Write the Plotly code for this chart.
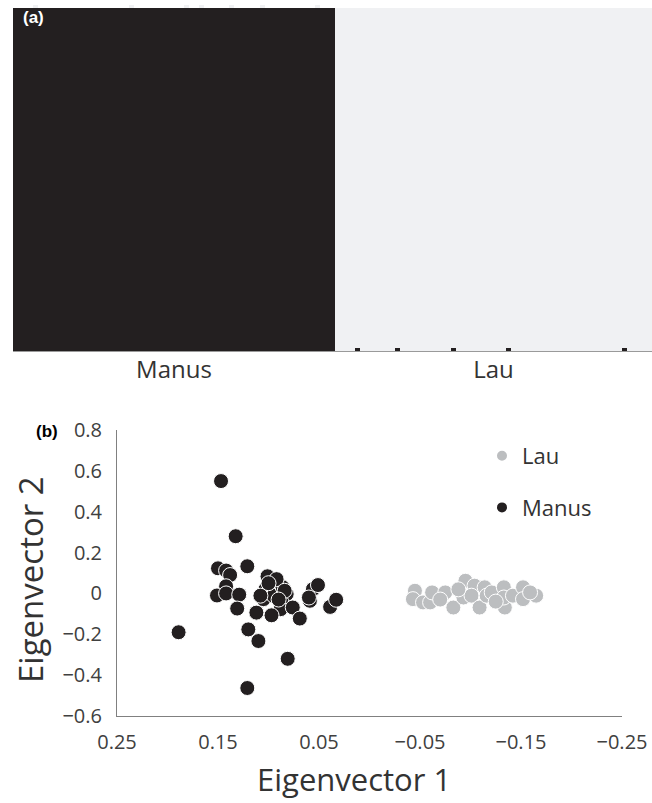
import plotly.graph_objects as go

# ---------------- Panel (a): ancestry proportions ----------------
n_manus = 64
n_lau = 63
pop_labels = ["Manus", "Lau"]
# individuals with small admixture signals (index: proportion of other cluster)
manus_minor = {4: 0.012, 23: 0.012, 34: 0.012, 37: 0.012, 43: 0.012, 49: 0.012, 60: 0.015}
lau_minor = {68: 0.008, 76: 0.008, 87: 0.008, 98: 0.008, 121: 0.01}

ind = list(range(n_manus + n_lau))
q_manus = []
q_lau = []
for i in ind:
    if i < n_manus:
        q_manus.append(1.0)
        q_lau.append(manus_minor.get(i, 0.0))
    else:
        m = lau_minor.get(i, 0.0)
        q_manus.append(m)
        q_lau.append(1.0 - m)

# ---------------- Panel (b): PCA ----------------
manus_x = [0.147, 0.1325, 0.121, 0.150, 0.142, 0.138, 0.142, 0.151, 0.142, 0.129,
           0.131, 0.112, 0.189, 0.120, 0.110, 0.081, 0.121, 0.101, 0.098, 0.103,
           0.105, 0.095, 0.086, 0.082, 0.087, 0.088, 0.097, 0.076, 0.069, 0.059,
           0.056, 0.051, 0.039, 0.033, 0.108, 0.092, 0.084, 0.090, 0.100, 0.060]
manus_y = [0.55, 0.28, 0.133, 0.123, 0.112, 0.09, 0.035, -0.01, 0.0, -0.006,
           -0.074, -0.094, -0.19, -0.176, -0.233, -0.32, -0.463, 0.084, 0.041, 0.02,
           -0.028, -0.011, 0.03, -0.003, -0.044, -0.077, -0.107, -0.069, -0.123, -0.036,
           0.021, 0.041, -0.066, -0.031, -0.011, 0.07, 0.013, -0.03, 0.05, -0.02]
lau_x = [-0.045, -0.043, -0.053, -0.060, -0.062, -0.075, -0.083, -0.093, -0.095, -0.104,
         -0.101, -0.109, -0.114, -0.116, -0.121, -0.133, -0.134, -0.133, -0.142, -0.152,
         -0.152, -0.165, -0.159, -0.070, -0.088, -0.125]
lau_y = [0.013, -0.028, -0.044, -0.044, 0.005, 0.005, -0.069, -0.02, 0.062, 0.038,
         -0.011, -0.069, 0.03, -0.011, 0.005, 0.03, -0.069, -0.02, -0.011, 0.03,
         -0.028, -0.011, 0.005, -0.03, 0.02, -0.04]

x_ticks = [0.25, 0.15, 0.05, -0.05, -0.15, -0.25]
x_ticktext = ["0.25", "0.15", "0.05", "\u22120.05", "\u22120.15", "\u22120.25"]
y_ticks = [0.8, 0.6, 0.4, 0.2, 0, -0.2, -0.4, -0.6]
y_ticktext = ["0.8", "0.6", "0.4", "0.2", "0", "\u22120.2", "\u22120.4", "\u22120.6"]

BLACK = "#231f20"
LIGHT = "#f0f1f3"
GREY = "#bcbec0"
FONT = "Open Sans"
W, H = 652, 803

fig = go.Figure()

fig.add_trace(go.Bar(x=ind, y=q_manus, marker=dict(color=BLACK, line=dict(width=0)),
                     xaxis="x", yaxis="y", showlegend=False, hoverinfo="skip"))
fig.add_trace(go.Bar(x=ind, y=q_lau, marker=dict(color=LIGHT, line=dict(width=0)),
                     xaxis="x", yaxis="y", showlegend=False, hoverinfo="skip"))

fig.add_trace(go.Scatter(x=lau_x, y=lau_y, mode="markers", name="Lau", legendgroup="lau",
                         marker=dict(size=15, color=GREY, line=dict(color="white", width=1)),
                         xaxis="x2", yaxis="y2"))
fig.add_trace(go.Scatter(x=manus_x, y=manus_y, mode="markers", name="Manus", legendgroup="manus",
                         marker=dict(size=15, color=BLACK, line=dict(color="white", width=1)),
                         xaxis="x2", yaxis="y2"))

def px_x(p):
    return p / W

def px_y(p):
    return 1 - p / H

centers = [(n_manus - 1) / 2, n_manus + (n_lau - 1) / 2]

fig.update_layout(
    width=W, height=H,
    margin=dict(l=0, r=0, t=0, b=0, autoexpand=False),
    paper_bgcolor="white", plot_bgcolor="white",
    barmode="stack", bargap=0,
    font=dict(family=FONT, color="#333333"),
    xaxis=dict(domain=[px_x(13), 1.0], anchor="y", range=[-0.5, n_manus + n_lau - 0.5],
               tickvals=centers, ticktext=pop_labels, ticks="", showgrid=False,
               zeroline=False, showline=True, linecolor="#9a9a9a", linewidth=1,
               automargin=False, ticklabelstandoff=-3,
               tickfont=dict(size=24, color="#333333", family=FONT)),
    yaxis=dict(domain=[px_y(351), px_y(5)], anchor="x", range=[0, 1.01], automargin=False,
               showticklabels=False, ticks="", showgrid=False, zeroline=False, showline=False),
    xaxis2=dict(domain=[px_x(117), px_x(622)], anchor="y2", range=[0.25, -0.25],
                tickvals=x_ticks, ticktext=x_ticktext, ticks="", showgrid=False,
                zeroline=False, showline=True, linecolor="#808080", linewidth=1,
                automargin=False,
                tickfont=dict(size=20, color="#404040", family=FONT), ticklabelstandoff=8),
    yaxis2=dict(domain=[px_y(716), px_y(430)], anchor="x2", range=[-0.6, 0.8],
                tickvals=y_ticks, ticktext=y_ticktext, ticks="", showgrid=False,
                zeroline=False, showline=True, linecolor="#808080", linewidth=1,
                automargin=False,
                tickfont=dict(size=20, color="#404040", family=FONT), ticklabelstandoff=10),
    legend=dict(x=px_x(482), y=px_y(435), xanchor="left", yanchor="top",
                font=dict(size=22, color="#333333", family=FONT),
                itemsizing="constant", tracegroupgap=20, bgcolor="rgba(0,0,0,0)"),
    annotations=[
        dict(text="<b>(a)</b>", x=px_x(21), y=px_y(18), xref="paper", yref="paper",
             xanchor="left", yanchor="middle", showarrow=False,
             font=dict(size=17, color="white", family="Liberation Sans")),
        dict(text="<b>(b)</b>", x=px_x(47), y=px_y(431), xref="paper", yref="paper",
             xanchor="center", yanchor="middle", showarrow=False,
             font=dict(size=17, color="black", family="Liberation Sans")),
        dict(text="Eigenvector 1", x=px_x(354), y=px_y(779), xref="paper", yref="paper",
             xanchor="center", yanchor="middle", showarrow=False,
             font=dict(size=31, color="#333333", family=FONT)),
        dict(text="Eigenvector 2", x=px_x(30), y=px_y(580), xref="paper", yref="paper",
             xanchor="center", yanchor="middle", showarrow=False, textangle=-90,
             font=dict(size=33, color="#333333", family=FONT)),
    ],
)

fig.write_html("out.html", config={"displayModeBar": False},
               post_script="document.body.style.margin='0';")
